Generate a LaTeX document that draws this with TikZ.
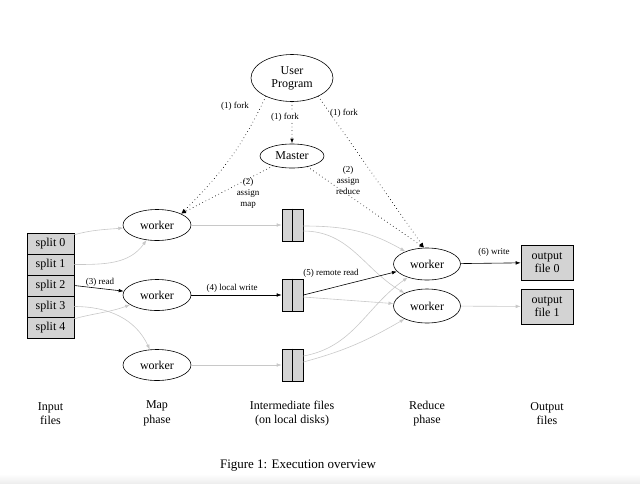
\documentclass[tikz,border=0pt]{standalone}
\usepackage{fontspec}
\setmainfont{Liberation Serif}
\usetikzlibrary{shapes.geometric,arrows.meta}
\definecolor{boxgray}{RGB}{211,211,211}
\definecolor{flowgray}{RGB}{200,200,200}
\definecolor{fadegray}{RGB}{238,238,238}

\begin{document}
\begin{tikzpicture}
  [x=1pt, y=-1pt, line width=0.6pt, >={Latex[length=5pt,width=3.6pt]},
   proc/.style={ellipse, draw, inner sep=0pt, font=\fontsize{12}{13}\selectfont},
   worker/.style={proc, minimum width=68pt, minimum height=31pt},
   split/.style={rectangle, draw, fill=boxgray, minimum width=47pt, minimum height=21pt,
     inner sep=0pt, font=\fontsize{12}{13}\selectfont},
   ifile/.style={rectangle, draw, fill=boxgray, minimum width=21pt, minimum height=32pt, inner sep=0pt},
   ofile/.style={split, minimum width=52pt, minimum height=35pt, align=center},
   lbl/.style={font=\fontsize{9}{11}\selectfont, inner sep=1pt, align=center},
   phase/.style={font=\fontsize{12}{14.5}\selectfont, align=center},
   flow/.style={->, draw=flowgray},
   ctrl/.style={->, line width=0.9pt, line cap=round, dash pattern=on 0pt off 3.6pt},
   data/.style={->}]
	\useasboundingbox (0,0) rectangle (640,483);
	\fill [top color=white, bottom color=fadegray, draw=none] (0,474) rectangle (640,483);

	% processes
	\node [name=user, proc, minimum width=82pt, minimum height=47pt, align=center] at (292,78) {User\\Program};
	\node [name=master, proc, minimum width=64pt, minimum height=24pt] at (292,156) {Master};

	% input splits
	\foreach \i in {0,...,4}
		\node [name=s\i, split] at (50.5,{243.5+21*\i}) {split \i};

	% map workers and their intermediate files
	\foreach \i/\y in {1/225, 2/295, 3/365} {
		\node [name=mw\i, worker] at (157,\y) {worker};
		\node [name=f\i, ifile] at (292.5,\y) {};
		\draw (f\i.north) -- (f\i.south);
	}

	% reduce workers and output files
	\node [name=rw1, proc, minimum width=67pt, minimum height=32pt] at (427,264) {worker};
	\node [name=rw2, proc, minimum width=67pt, minimum height=34pt] at (427,306) {worker};
	\node [name=out0, ofile] at (547,262.5) {output\\file 0};
	\node [name=out1, ofile] at (547,306.5) {output\\file 1};

	% control
	\path (user) edge [ctrl] (master)
				(user.215) edge [ctrl, out=245, in=45] (mw1.25)
				(master) edge [ctrl] (mw1.25)
				(user.325) edge [ctrl] (rw1.100)
				(master) edge [ctrl] (rw1.100);

	% data that is not followed
	\path ([yshift=-2pt]s0.north east) edge [flow, out=15, in=185] (mw1)
				(s1.east) edge [flow, out=0, in=235] (mw1)
				(s3.east) edge [flow, out=0, in=115] (mw3)
				([yshift=-2pt]s4.north east) edge [flow, out=15, in=200] (mw2)
				(mw1) edge [flow] (f1)
				(mw3) edge [flow] (f3)
				([yshift=-1pt]f1.east) edge [flow, out=0, in=150] (rw1)
				([yshift=-6pt]f1.east) edge [flow, out=0, in=150] (rw2)
				([yshift=-2pt]f2.east) edge [flow] (rw2)
				([yshift=9pt]f3.east) edge [flow, out=10, in=215] (rw1)
				([yshift=3pt]f3.east) edge [flow, out=15, in=210] (rw2)
				(rw2) edge [flow] (out1);

	% data that is followed
	\path (s2.east) edge [data] (mw2)
				(mw2) edge [data] (f2)
				(f2.east) edge [data] (rw1)
				(rw1) edge [data] (out0);

	% labels
	\node [name=lfork1, lbl] at (235,106) {(1) fork};
	\node [name=lfork2, lbl, fill=white] at (285,117) {(1) fork};
	\node [name=lfork3, lbl] at (344,113) {(1) fork};
	\node [name=lmap, lbl] at (248,193) {(2)\\assign\\map};
	\node [name=lreduce, lbl] at (348,180) {(2)\\assign\\reduce};
	\node [name=lread, lbl] at (100,282) {(3) read};
	\node [name=lwrite, lbl] at (232,288) {(4) local write};
	\node [name=lremote, lbl] at (331,273) {(5) remote read};
	\node [name=lout, lbl] at (494,252) {(6) write};

	% phases
	\node [name=pinput, phase] at (50.5,413.5) {Input\\files};
	\node [name=pmap, phase] at (157,413.5) {Map\\phase};
	\node [name=pinter, phase] at (292,413.5) {Intermediate files\\(on local disks)};
	\node [name=preduce, phase] at (427,413.5) {Reduce\\phase};
	\node [name=poutput, phase] at (547,413.5) {Output\\files};

	\node [name=caption, font=\fontsize{13}{15}\selectfont] at (298,466) {Figure 1: Execution overview};
\end{tikzpicture}
\end{document}
